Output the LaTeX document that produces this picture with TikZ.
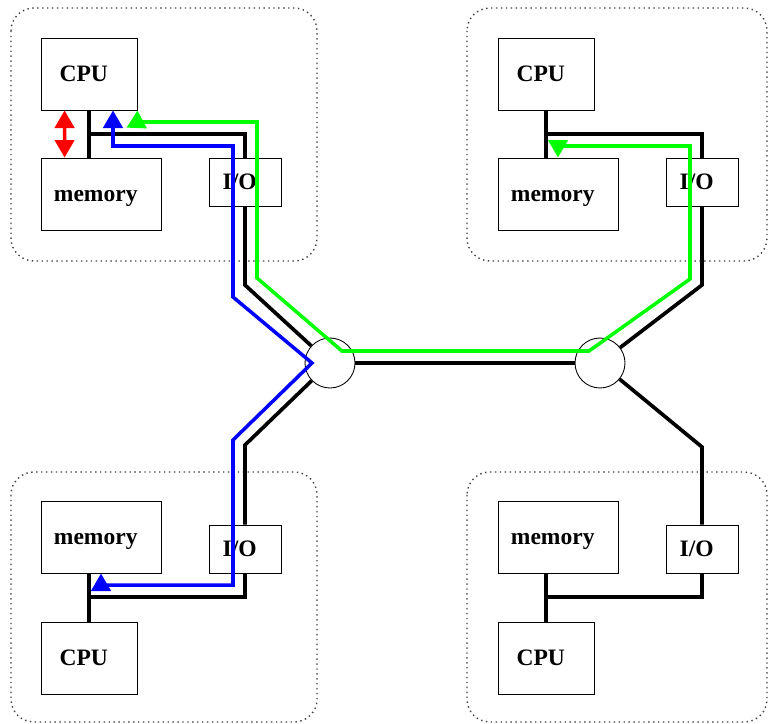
\documentclass[tikz,border=0pt]{standalone}
\usepackage{fontspec}
\setmainfont{Liberation Serif}
\usetikzlibrary{positioning,arrows.meta,calc}
\tikzset{
    % dotted outline round each machine
    unit/.style={draw, black!75, dotted, line width=0.8pt, rounded corners=13pt},
    % Arrow tips
    tip/.tip={Triangle[length=10pt, width=11pt]},
}

\begin{document}
\begin{tikzpicture}[x=0.02cm, y=-0.02cm,
    box/.style={rectangle, draw, line width=0.5pt, inner sep=0pt,
                font=\fontsize{13.4}{16}\selectfont\bfseries,
                text height=9pt, text depth=0pt,
                execute at end node={\hspace{6pt}}},
    cpu/.style={box, minimum width=1.92cm, minimum height=1.44cm},
    mem/.style={box, minimum width=2.4cm, minimum height=1.44cm},
    io/.style={box, minimum width=1.44cm, minimum height=0.96cm},
    hub/.style={circle, draw, line width=0.5pt, minimum size=1cm, inner sep=0pt},
    wire/.style={line width=2.1pt},
    route/.style={line width=2pt, tip-tip},
]
    \useasboundingbox (0,0) rectangle (768,724);

    % Machines
    \draw[unit] (11,8) rectangle (317,261);
    \draw[unit] (467,8) rectangle (767,261);
    \draw[unit] (11,472) rectangle (317,722);
    \draw[unit] (467,472) rectangle (767,722);

    \node[cpu] (cpuA) at (89,74) {CPU};
    \node[mem] (memA) at (101,194) {memory};
    \node[io] (ioA) at (245,182) {I/O};

    \node[cpu] (cpuB) at (546,74) {CPU};
    \node[mem] (memB) at (558,194) {memory};
    \node[io] (ioB) at (702,182) {I/O};

    \node[mem] (memC) at (101,537) {memory};
    \node[io] (ioC) at (245,549) {I/O};
    \node[cpu] (cpuC) at (89,658) {CPU};

    \node[mem] (memD) at (558,537) {memory};
    \node[io] (ioD) at (702,549) {I/O};
    \node[cpu] (cpuD) at (546,658) {CPU};

    % Switches
    \node[hub] (hubL) at (330,363) {};
    \node[hub] (hubR) at (600,363) {};

    % Buses
    \draw[wire] (cpuA.south) -- (cpuA.south |- memA.north);
    \draw[wire] (89,134) -| (ioA.north);
    \draw[wire] (ioA.south) -- (245,285) -- (hubL);

    \draw[wire] (cpuB.south) -- (cpuB.south |- memB.north);
    \draw[wire] (546,134) -| (ioB.north);
    \draw[wire] (ioB.south) -- (702,285) -- (hubR);

    \draw[wire] (cpuC.north) -- (cpuC.north |- memC.south);
    \draw[wire] (89,597) -| (ioC.south);
    \draw[wire] (ioC.north) -- (245,445) -- (hubL);

    \draw[wire] (cpuD.north) -- (cpuD.north |- memD.south);
    \draw[wire] (546,597) -| (ioD.south);
    \draw[wire] (ioD.north) -- (702,447) -- (hubR);

    \draw[wire] (hubL) -- (hubR);

    % Transfers
    \draw[route, red] ($(cpuA.south west)+(24,0)$) -- ($(memA.north west)+(24,0)$);
    \draw[route, blue] ($(cpuA.south)+(24,0)$) -- (113,146) -- (233,146) -- (233,297)
        -- (312,363) -- (233,440) -- (233,585) -- (101,585) -- (memC.south);
    \draw[route, green] (cpuA.south east) -- (137,122) -- (257,122) -- (257,278)
        -- (342,351) -- (589,351) -- (690,279) -- (690,146) -- (558,146) -- (memB.north);
\end{tikzpicture}
\end{document}
